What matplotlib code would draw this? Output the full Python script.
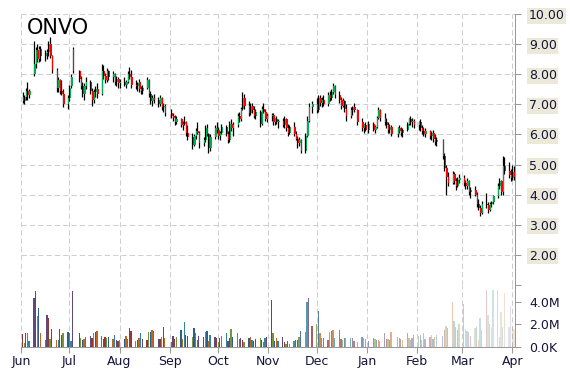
import matplotlib
matplotlib.use('Agg')
import matplotlib.pyplot as plt
import matplotlib.dates as mdates
from matplotlib.colors import to_rgba
import numpy as np
import pandas as pd

# trading days Jun 2 2014 - Apr 2 2015
holidays = ['2014-07-04', '2014-09-01', '2014-11-27', '2014-12-25',
            '2015-01-01', '2015-01-19', '2015-02-16']
days = pd.bdate_range('2014-06-02', '2015-04-02')
days = days[~days.isin(pd.to_datetime(holidays))]

opens = [
    7.25, 7.10, 7.25, 7.45, 7.30, 8.00, 8.35, 8.80, 8.50, 8.85, 8.60, 8.70, 8.75, 9.00, 8.60, 8.15, 7.55, 7.80, 7.45, 7.35, 7.00,
    7.20, 7.60, 8.85, 8.10, 7.85, 7.60, 7.35, 7.60, 7.75, 7.45, 7.15, 7.40, 7.50, 7.35, 8.10, 7.95, 7.80, 8.10, 7.90, 8.00, 7.75, 7.85,
    7.70, 7.75, 7.65, 7.75, 8.00, 7.90, 7.65, 7.60, 7.75, 7.50, 7.45, 7.55, 7.80, 7.35, 7.10, 7.20, 7.15, 7.00, 7.20, 6.90, 6.95,
    6.70, 6.60, 6.55, 6.40, 6.50, 6.30, 6.35, 6.40, 6.05, 5.90, 5.65, 5.95, 6.10, 6.05, 5.70, 5.80, 6.20, 6.00, 5.55, 5.90, 6.20,
    6.15, 5.95, 6.05, 6.25, 6.00, 5.80, 6.35, 6.20, 6.30, 6.60, 6.50, 6.85, 7.20, 6.95, 6.70, 6.95, 6.80, 6.60, 6.75, 6.35, 6.85, 6.75, 6.50,
    6.60, 6.65, 6.40, 6.50, 6.40, 6.45, 6.30, 6.50, 6.20, 6.05, 6.25, 6.00, 5.85, 5.70, 5.80, 5.45, 5.95, 6.45, 6.90,
    7.00, 6.80, 7.20, 7.05, 7.15, 7.00, 7.30, 7.20, 7.40, 7.60, 7.30, 7.15, 6.95, 7.10, 6.85, 6.60, 6.80, 6.90, 6.80, 6.40, 6.20, 6.30,
    6.15, 6.35, 6.15, 6.25, 6.55, 6.80, 6.55, 6.40, 6.30, 6.15, 6.25, 6.00, 6.20, 6.10, 6.05, 6.15, 6.35, 6.50, 6.40, 6.45,
    6.30, 6.40, 6.20, 6.10, 6.00, 6.10, 5.95, 6.05, 5.85, 5.75, 5.80, 5.30, 4.90, 4.60, 4.40, 4.70, 4.45, 4.30, 4.50,
    4.55, 4.40, 4.30, 4.45, 4.10, 4.15, 4.00, 3.70, 3.55, 3.40, 3.70, 3.65, 3.50, 3.70, 3.75, 3.95, 4.30, 4.45, 4.10, 4.95, 4.80, 4.65, 4.55, 4.75,
]
highs = [
    7.40, 7.30, 7.55, 7.75, 7.50, 9.10, 8.90, 9.00, 8.95, 8.95, 8.80, 8.85, 9.10, 9.25, 8.65, 8.20, 7.90, 7.85, 7.80, 7.50, 7.30,
    7.65, 8.00, 8.90, 8.15, 7.95, 7.75, 7.70, 7.90, 7.80, 7.55, 7.50, 7.60, 7.70, 8.35, 8.30, 8.05, 8.20, 8.15, 8.10, 8.05, 7.95, 7.90,
    7.85, 7.90, 7.80, 8.10, 8.25, 8.15, 7.80, 7.75, 7.85, 7.60, 7.65, 7.90, 7.85, 7.45, 7.30, 7.35, 7.25, 7.30, 7.25, 7.05, 7.00,
    6.85, 6.70, 6.65, 6.60, 6.55, 6.45, 6.60, 6.45, 6.30, 6.05, 6.00, 6.20, 6.40, 6.10, 5.90, 6.30, 6.35, 6.05, 6.00, 6.30, 6.40,
    6.25, 6.10, 6.35, 6.30, 6.10, 6.45, 6.50, 6.40, 6.70, 6.75, 6.90, 7.40, 7.35, 7.10, 7.05, 7.05, 6.95, 6.85, 6.80, 6.95, 7.05, 6.85, 6.70,
    6.70, 6.70, 6.55, 6.60, 6.50, 6.55, 6.60, 6.55, 6.35, 6.30, 6.40, 6.10, 5.95, 5.90, 5.85, 6.05, 6.60, 7.05, 7.10,
    7.20, 7.30, 7.30, 7.25, 7.30, 7.40, 7.45, 7.50, 7.70, 7.65, 7.45, 7.25, 7.20, 7.15, 7.00, 6.90, 6.95, 7.05, 6.85, 6.55, 6.35, 6.40,
    6.45, 6.40, 6.30, 6.60, 6.90, 6.85, 6.70, 6.55, 6.40, 6.35, 6.30, 6.25, 6.30, 6.25, 6.20, 6.40, 6.55, 6.60, 6.55, 6.50,
    6.45, 6.50, 6.30, 6.25, 6.20, 6.15, 6.10, 6.15, 6.00, 5.90, 5.85, 5.40, 5.00, 4.75, 4.80, 4.75, 4.55, 4.60, 4.70,
    4.65, 4.50, 4.55, 4.50, 4.25, 4.30, 4.10, 3.85, 3.65, 3.80, 4.05, 3.75, 3.75, 3.80, 4.00, 4.40, 4.55, 4.50, 5.30, 5.25, 5.10, 4.85, 5.00, 4.95,
]
lows = [
    7.05, 7.00, 7.15, 7.15, 7.20, 7.95, 8.20, 8.40, 8.40, 8.45, 8.45, 8.50, 8.60, 8.55, 8.05, 7.40, 7.40, 7.35, 7.30, 6.90, 6.85,
    7.10, 7.55, 8.05, 7.75, 7.50, 7.25, 7.15, 7.50, 7.35, 6.95, 7.05, 7.25, 7.20, 7.30, 7.85, 7.70, 7.75, 7.80, 7.75, 7.65, 7.60, 7.55,
    7.55, 7.60, 7.55, 7.70, 7.85, 7.55, 7.50, 7.45, 7.40, 7.35, 7.35, 7.50, 7.25, 7.00, 6.95, 7.05, 6.90, 6.95, 6.80, 6.75, 6.60,
    6.55, 6.45, 6.30, 6.35, 6.25, 6.15, 6.30, 5.95, 5.80, 5.50, 5.60, 5.85, 6.00, 5.55, 5.60, 5.75, 5.95, 5.40, 5.45, 5.85, 6.05,
    5.85, 5.80, 6.00, 5.95, 5.70, 5.75, 6.10, 5.95, 6.25, 6.40, 6.45, 6.80, 6.85, 6.60, 6.65, 6.70, 6.55, 6.50, 6.25, 6.30, 6.70, 6.45, 6.40,
    6.45, 6.30, 6.30, 6.35, 6.20, 6.25, 6.20, 6.10, 5.95, 6.00, 5.95, 5.80, 5.55, 5.60, 5.40, 5.40, 5.90, 6.40, 6.70,
    6.70, 6.75, 6.95, 6.90, 6.95, 6.95, 7.10, 7.15, 7.35, 7.20, 7.05, 6.85, 6.90, 6.75, 6.45, 6.55, 6.65, 6.75, 6.30, 6.10, 6.05, 6.10,
    6.05, 6.10, 6.05, 6.20, 6.50, 6.45, 6.30, 6.20, 6.05, 6.05, 5.95, 5.90, 6.05, 5.95, 5.90, 6.10, 6.30, 6.30, 6.25, 6.20,
    6.15, 6.10, 6.00, 5.95, 5.90, 5.85, 5.80, 5.75, 5.65, 5.60, 5.20, 4.80, 3.98, 4.30, 4.35, 4.35, 4.15, 4.25, 4.40,
    4.30, 4.20, 4.20, 4.00, 3.90, 3.95, 3.60, 3.50, 3.30, 3.35, 3.55, 3.40, 3.45, 3.60, 3.70, 3.90, 4.20, 4.00, 4.00, 4.70, 4.55, 4.45, 4.50, 4.50,
]
closes = [
    7.10, 7.25, 7.45, 7.30, 7.45, 8.35, 8.80, 8.50, 8.85, 8.60, 8.70, 8.75, 9.00, 8.60, 8.15, 7.55, 7.80, 7.45, 7.35, 7.00, 7.20,
    7.55, 7.90, 8.10, 7.85, 7.60, 7.35, 7.60, 7.75, 7.45, 7.15, 7.40, 7.50, 7.35, 8.10, 7.95, 7.80, 8.10, 7.90, 8.00, 7.75, 7.85, 7.70,
    7.75, 7.65, 7.75, 8.00, 7.90, 7.65, 7.60, 7.70, 7.50, 7.45, 7.55, 7.80, 7.35, 7.10, 7.20, 7.15, 7.00, 7.20, 6.90, 6.95, 6.70,
    6.60, 6.55, 6.40, 6.50, 6.30, 6.35, 6.40, 6.05, 5.90, 5.65, 5.95, 6.10, 6.05, 5.70, 5.80, 6.20, 6.00, 5.55, 5.90, 6.20, 6.15,
    5.95, 6.05, 6.25, 6.00, 5.80, 6.35, 6.20, 6.30, 6.60, 6.50, 6.85, 7.20, 6.95, 6.70, 6.95, 6.80, 6.60, 6.75, 6.35, 6.85, 6.75, 6.50, 6.60,
    6.65, 6.40, 6.50, 6.40, 6.45, 6.30, 6.50, 6.20, 6.05, 6.25, 6.00, 5.85, 5.70, 5.80, 5.45, 5.95, 6.45, 6.90, 7.00,
    6.80, 7.20, 7.05, 7.15, 7.00, 7.30, 7.20, 7.40, 7.60, 7.30, 7.15, 6.95, 7.10, 6.85, 6.60, 6.80, 6.90, 6.80, 6.40, 6.20, 6.30, 6.15,
    6.35, 6.15, 6.25, 6.55, 6.80, 6.55, 6.40, 6.30, 6.15, 6.25, 6.00, 6.20, 6.10, 6.05, 6.15, 6.35, 6.50, 6.40, 6.45, 6.30,
    6.40, 6.20, 6.10, 6.00, 6.10, 5.95, 6.05, 5.85, 5.75, 5.80, 5.30, 4.90, 4.60, 4.40, 4.70, 4.45, 4.30, 4.50, 4.55,
    4.40, 4.30, 4.45, 4.10, 4.15, 4.00, 3.70, 3.55, 3.40, 3.70, 3.65, 3.50, 3.70, 3.75, 3.95, 4.30, 4.45, 4.10, 4.95, 4.80, 4.65, 4.55, 4.75, 4.60,
]
# volume in millions of shares
volumes = [
    1.15, 0.35, 1.2, 1.2, 0.5, 4.35, 5.0, 2.75, 3.45, 1.2, 0.6, 2.85, 2.55, 0.75, 1.6, 0.6, 0.6, 1.6, 1.1, 1.2, 1.35,
    1.2, 0.55, 5.0, 1.2, 0.8, 0.6, 0.7, 0.9, 1.0, 0.8, 1.2, 1.3, 1.4, 1.0, 0.7, 0.9, 0.8, 0.9, 0.7, 1.1, 0.6, 0.5,
    0.6, 0.7, 1.0, 0.7, 1.7, 1.4, 0.5, 0.6, 0.8, 1.2, 0.7, 0.6, 1.3, 1.3, 1.5, 1.4, 0.7, 0.7, 0.9, 1.8, 0.8,
    0.4, 1.0, 0.7, 0.9, 1.5, 0.7, 2.2, 1.1, 1.0, 0.9, 1.7, 1.2, 0.6, 1.0, 0.9, 1.3, 1.4, 0.5, 1.1, 0.9, 0.8,
    0.4, 0.8, 1.0, 1.2, 0.5, 0.8, 1.6, 0.9, 1.2, 0.7, 0.8, 0.6, 0.4, 0.8, 0.9, 0.6, 0.5, 0.7, 0.8, 0.6, 0.4, 0.8, 0.9,
    4.2, 1.2, 0.5, 0.8, 0.5, 0.9, 0.4, 0.3, 0.5, 0.3, 0.5, 0.6, 0.6, 0.9, 1.4, 1.3, 4.0, 4.35, 1.9,
    2.0, 3.2, 1.2, 0.8, 0.8, 0.6, 1.3, 1.4, 1.5, 0.8, 1.5, 0.7, 0.6, 0.8, 0.8, 0.8, 0.8, 0.5, 0.4, 0.9, 0.8, 0.7,
    0.5, 0.8, 0.7, 0.6, 0.6, 0.5, 1.2, 0.7, 0.7, 0.6, 1.3, 0.9, 0.8, 0.7, 0.6, 1.2, 0.8, 0.6, 0.8, 1.1,
    1.0, 1.1, 0.6, 1.2, 0.7, 0.9, 1.1, 0.7, 0.9, 1.1, 1.0, 1.5, 1.9, 1.7, 4.0, 2.3, 1.8, 1.5, 2.0,
    3.85, 1.6, 1.4, 1.3, 1.0, 1.7, 1.8, 0.6, 2.6, 1.5, 5.1, 2.8, 2.0, 1.8, 5.1, 5.1, 0.9, 3.1, 1.8, 4.8, 1.8, 3.6, 1.8, 1.6,
]
assert len(days) == len(opens) == len(highs) == len(lows) == len(closes) == len(volumes), len(days)

price_ticks = [1, 2, 3, 4, 5, 6, 7, 8, 9, 10]
vol_ticks = [0, 2, 4]
vol_labels = ['0.0K', '2.0M', '4.0M']
months = pd.date_range('2014-06-01', '2015-04-01', freq='MS')

x = mdates.date2num(days.to_pydatetime())
o, h, l, c = map(np.array, (opens, highs, lows, closes))
v = np.array(volumes)

fig = plt.figure(figsize=(5.7, 3.7), dpi=100)
ax = fig.add_axes([21 / 570, 1 - 285 / 370, 494 / 570, 271 / 370])
axv = fig.add_axes([21 / 570, 1 - 347 / 370, 494 / 570, 62 / 370], sharex=ax)

grid_kw = dict(color='#cfcfcf', linestyle=(0, (5, 3)), linewidth=0.75)
txt_col = '#14143a'
spine_col = '#9a9a9a'

# candles
up = c >= o
ax.vlines(x, l, h, color='black', linewidth=0.9, zorder=3)
body_col = np.where(up, '#00b050', '#ff0000')
ax.bar(x + 0.6, np.maximum(np.abs(c - o), 0.03), width=0.8,
       bottom=np.minimum(o, c), color=body_col, zorder=4, linewidth=0)

ax.set_ylim(1, 10)
ax.set_xlim(mdates.date2num(pd.Timestamp('2014-06-01')),
            mdates.date2num(pd.Timestamp('2015-04-02 16:00')))
ax.set_yticks(price_ticks)
ax.set_yticklabels([''] + ['%.2f' % t for t in price_ticks[1:]])
ax.yaxis.tick_right()
for lab in ax.get_yticklabels():
    lab.set_bbox(dict(facecolor='#ece9d8', edgecolor='none', pad=1.2))
ax.tick_params(axis='y', colors=spine_col, labelcolor=txt_col, labelsize=9,
               length=4, width=0.75, pad=6)
ax.tick_params(axis='x', bottom=False, labelbottom=False)
ax.set_xticks(mdates.date2num(months.to_pydatetime()))
ax.grid(True, **grid_kw)
ax.axhline(1, clip_on=False, **grid_kw)
for s in ['left', 'top', 'bottom']:
    ax.spines[s].set_visible(False)
ax.spines['right'].set_color(spine_col)
ax.spines['right'].set_linewidth(0.75)
ax.text(0.012, 0.985, 'ONVO', transform=ax.transAxes, fontsize=15,
        color='black', va='top', ha='left')

# volume bars, the later ones drawn paler
palette = ['#953735', '#77933c', '#2c5f8f', '#c0651f', '#31859c', '#604a7b']
fade_start = mdates.date2num(pd.Timestamp('2014-11-10'))
cols = []
for i, xi in enumerate(x):
    a = 1.0
    if xi > fade_start:
        a = 1.0 - 0.82 * ((xi - fade_start) / (x[-1] - fade_start)) ** 0.7
    cols.append(to_rgba(palette[i % len(palette)], a))
axv.bar(x, v, width=0.8, color=cols, linewidth=0, zorder=3)
axv.set_ylim(0, 5.5)
axv.set_yticks(vol_ticks)
axv.set_yticklabels(vol_labels)
axv.yaxis.tick_right()
axv.tick_params(axis='y', colors=spine_col, labelcolor=txt_col, labelsize=9,
                length=4, width=0.75, pad=6)
axv.set_xticks(mdates.date2num(months.to_pydatetime()))
axv.set_xticklabels([m.strftime('%b') for m in months])
axv.tick_params(axis='x', colors=spine_col, labelcolor=txt_col, labelsize=9,
                length=4, width=0.75, pad=2)
axv.xaxis.grid(True, **grid_kw)
for s in ['left', 'top']:
    axv.spines[s].set_visible(False)
for s in ['right', 'bottom']:
    axv.spines[s].set_color(spine_col)
    axv.spines[s].set_linewidth(0.75)

fig.savefig('out.png', dpi=100)
